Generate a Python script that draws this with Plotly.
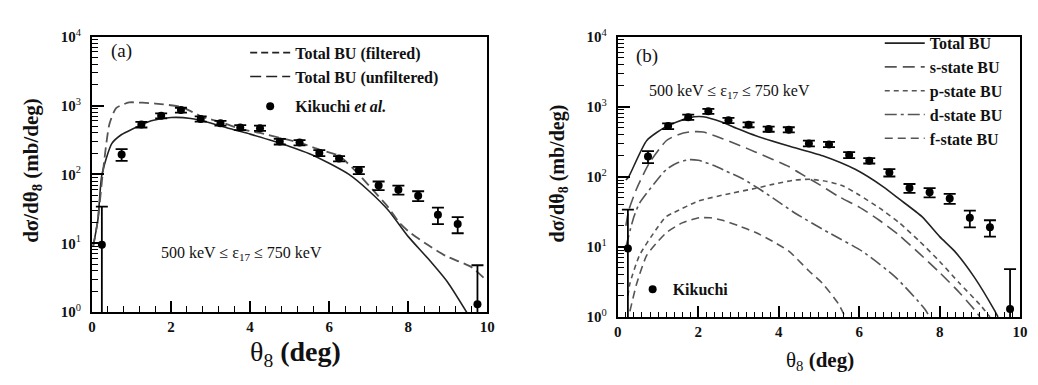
import plotly.graph_objects as go

# ---------------- data ----------------
# Kikuchi et al. measured points (theta_8 in deg, dsigma/dtheta in mb/deg)
exp_theta = [0.25, 0.75, 1.25, 1.75, 2.25, 2.75, 3.25, 3.75, 4.25, 4.75,
             5.25, 5.75, 6.25, 6.75, 7.25, 7.75, 8.25, 8.75, 9.25, 9.75]
exp_sigma = [9.5, 195, 530, 710, 860, 640, 555, 480, 470, 300,
             290, 205, 170, 115, 69, 60, 49, 26, 19, 1.3]
exp_err_up = [24.5, 38, 50, 60, 70, 55, 45, 40, 40, 28,
              25, 20, 15, 14, 10, 9, 8, 7, 5, 3.5]
exp_err_down = [9.45, 38, 50, 60, 70, 55, 45, 40, 40, 28,
                25, 20, 15, 14, 10, 9, 8, 7, 5, 1.28]

# panel (a): total breakup, filtered / unfiltered
filt_theta = [0.03, 0.15, 0.25, 0.5, 0.75, 1.0, 1.5, 2.0, 2.5, 3.0, 3.5,
              4.0, 4.5, 5.0, 5.5, 6.0, 6.5, 7.0, 7.5, 8.0, 8.5, 9.0, 9.5]
filt_sigma = [9, 22, 98, 280, 380, 450, 600, 670, 650, 560, 460,
              385, 315, 255, 200, 145, 100, 58, 30, 12.5, 6.0, 2.7, 0.95]

unf_theta = [0.03, 0.15, 0.27, 0.44, 0.61, 0.94, 1.27, 1.6, 2.27, 2.78, 3.28,
             3.78, 4.25, 4.75, 5.25, 5.75, 6.25, 6.75, 7.1, 7.5, 7.77, 8.0,
             8.44, 8.94, 9.6, 10.0]
unf_sigma = [9, 22, 100, 535, 915, 1110, 1100, 1070, 950, 690, 570,
             455, 400, 340, 290, 230, 186, 100, 60, 33, 20, 15,
             9.9, 6.6, 4.5, 2.8]

# panel (b): total and partial-wave breakup components
tot_theta = [0.2, 0.27, 0.72, 1.21, 1.78, 2.12, 2.6, 3.0, 3.43, 4.25, 5.09,
             5.9, 6.6, 7.0, 7.56, 8.0, 8.37, 8.86, 9.36, 9.45]
tot_sigma = [90, 100, 330, 525, 700, 720, 600, 480, 385, 275, 200,
             128, 72, 48, 27, 14, 8.7, 3.7, 1.25, 1.0]

s_theta = [0.2, 0.27, 0.47, 0.79, 1.21, 1.5, 1.78, 2.12, 2.6, 3.0, 3.43, 4.25,
           4.5, 5.0, 5.5, 6.0, 6.5, 7.0, 7.5, 8.0, 8.5, 8.9, 9.0]
s_sigma = [20, 33, 68, 160, 330, 400, 437, 437, 350, 285, 225, 140,
           115, 78, 52, 37, 24, 14.5, 8, 4.3, 2.2, 1.2, 1.0]

p_theta = [0.25, 0.3, 0.54, 0.96, 1.2, 1.4, 2.0, 2.8, 3.4, 3.85, 4.4, 4.8,
           5.2, 5.6, 6.0, 6.5, 7.0, 7.5, 8.0, 8.5, 9.0, 9.25]
p_sigma = [2, 3, 7.6, 18, 27, 31, 45, 58, 68, 78, 90, 92,
           86, 74, 55, 36, 22, 12, 6.2, 3.0, 1.5, 1.0]

d_theta = [0.2, 0.4, 0.54, 0.89, 1.21, 1.5, 1.78, 2.0, 2.37, 2.7, 3.1, 3.5,
           3.85, 4.42, 5.24, 6.07, 6.9, 7.63, 7.75]
d_sigma = [10, 27, 42, 78, 128, 160, 176, 172, 146, 120, 94, 68,
           50, 30, 16, 8.7, 3.7, 1.3, 1.0]

f_theta = [0.3, 0.47, 0.72, 1.0, 1.21, 1.6, 2.02, 2.3, 2.6, 3.0, 3.43, 3.85,
           4.25, 4.74, 5.09, 5.48, 5.65]
f_sigma = [1.2, 3, 7.6, 12, 16, 22, 26, 26, 24, 20, 16, 12,
           8.7, 4.6, 3, 1.55, 1.0]

x_ticks_a = [0, 2, 4, 6, 8, 10]
x_ticks_b = [0, 2, 4, 6, 8, 10]
y_ticks = [1, 10, 100, 1000, 10000]
y_ticklabels = ["<b>10</b><sup>0</sup>", "<b>10</b><sup>1</sup>",
                "<b>10</b><sup>2</sup>", "<b>10</b><sup>3</sup>",
                "<b>10</b><sup>4</sup>"]

# ---------------- styling ----------------
SERIF = "Liberation Serif"
W, H = 1038, 385
INK = "#222222"
GRAY = "#555555"


def px_x(p):
    return p / W


def px_y(p):
    return 1 - p / H


fig = go.Figure()

err = dict(type="data", symmetric=False, array=exp_err_up,
           arrayminus=exp_err_down, color="black", thickness=1.8, width=6)

# ---- panel (a) ----
fig.add_trace(go.Scatter(x=filt_theta, y=filt_sigma, mode="lines",
                         line=dict(color=INK, width=1.6, shape="spline", smoothing=0.6),
                         showlegend=False, xaxis="x", yaxis="y"))
fig.add_trace(go.Scatter(x=unf_theta, y=unf_sigma, mode="lines",
                         line=dict(color=GRAY, width=1.8, dash="10px,5px",
                                   shape="spline", smoothing=0.6),
                         showlegend=False, xaxis="x", yaxis="y"))
# legend keys for panel (a)
fig.add_trace(go.Scatter(x=[None], y=[None], mode="lines",
                         line=dict(color=INK, width=1.6, dash="7px,4px"),
                         name="<b>Total BU (filtered)</b>", legend="legend",
                         legendgroup="a1", xaxis="x", yaxis="y"))
fig.add_trace(go.Scatter(x=[None], y=[None], mode="lines",
                         line=dict(color=INK, width=1.6, dash="11px,5px"),
                         name="<b>Total BU (unfiltered)</b>", legend="legend",
                         legendgroup="a1", xaxis="x", yaxis="y"))
fig.add_trace(go.Scatter(x=exp_theta, y=exp_sigma, mode="markers",
                         marker=dict(color="black", size=8), error_y=err,
                         name="<b>Kikuchi <i>et al.</i></b>", legend="legend",
                         legendgroup="a2", xaxis="x", yaxis="y"))

# ---- panel (b) ----
fig.add_trace(go.Scatter(x=tot_theta, y=tot_sigma, mode="lines",
                         line=dict(color=INK, width=1.6, shape="spline", smoothing=0.6),
                         name="<b>Total BU</b>", legend="legend2",
                         xaxis="x2", yaxis="y2"))
fig.add_trace(go.Scatter(x=s_theta, y=s_sigma, mode="lines",
                         line=dict(color=GRAY, width=1.6, dash="12px,6px",
                                   shape="spline", smoothing=0.6),
                         name="<b>s-state BU</b>", legend="legend2",
                         xaxis="x2", yaxis="y2"))
fig.add_trace(go.Scatter(x=p_theta, y=p_sigma, mode="lines",
                         line=dict(color=GRAY, width=1.6, dash="5px,4px",
                                   shape="spline", smoothing=0.6),
                         name="<b>p-state BU</b>", legend="legend2",
                         xaxis="x2", yaxis="y2"))
fig.add_trace(go.Scatter(x=d_theta, y=d_sigma, mode="lines",
                         line=dict(color=GRAY, width=1.6, dash="12px,4px,3px,4px",
                                   shape="spline", smoothing=0.6),
                         name="<b>d-state BU</b>", legend="legend2",
                         xaxis="x2", yaxis="y2"))
fig.add_trace(go.Scatter(x=f_theta, y=f_sigma, mode="lines",
                         line=dict(color=GRAY, width=1.6, dash="8px,5px",
                                   shape="spline", smoothing=0.6),
                         name="<b>f-state BU</b>", legend="legend2",
                         xaxis="x2", yaxis="y2"))
fig.add_trace(go.Scatter(x=exp_theta, y=exp_sigma, mode="markers",
                         marker=dict(color="black", size=8), error_y=err,
                         name="<b>Kikuchi</b>", legend="legend3",
                         xaxis="x2", yaxis="y2"))

minor_y = [m * 10 ** e for e in range(0, 4) for m in range(2, 10)]

common_x = dict(range=[0, 10], showgrid=False, zeroline=False, showline=True,
                linecolor="black", linewidth=2, mirror=True, ticks="inside",
                tickcolor="black", tickwidth=1.5, ticklen=11,
                tickfont=dict(family=SERIF, size=15, color="#111"),
                tickmode="array")
common_y = dict(type="log", range=[0, 4], showgrid=False, zeroline=False,
                showline=True, linecolor="black", linewidth=2, mirror=True,
                ticks="inside", tickcolor="black", tickwidth=1.5, ticklen=12,
                tickmode="array", tickvals=y_ticks, ticktext=y_ticklabels,
                tickfont=dict(family=SERIF, size=15, color="#111"),
                ticklabelstandoff=6,
                minor=dict(ticks="inside", ticklen=6, tickwidth=1.2,
                           tickcolor="black", tickmode="array",
                           tickvals=minor_y, showgrid=False))

fig.update_layout(
    width=W, height=H, margin=dict(l=0, r=0, t=0, b=0),
    paper_bgcolor="white", plot_bgcolor="white",
    font=dict(family=SERIF, color="#111"),
    xaxis=dict(common_x, domain=[px_x(89), px_x(489)], anchor="y",
               tickvals=x_ticks_a, ticktext=[f"<b>{v}</b>" for v in x_ticks_a],
               minor=dict(ticks="inside", ticklen=6, tickwidth=1.2,
                          tickcolor="black", dtick=0.4, showgrid=False)),
    yaxis=dict(common_y, domain=[px_y(317), px_y(28)], anchor="x"),
    xaxis2=dict(common_x, domain=[px_x(621), px_x(1028)], anchor="y2",
                tickvals=x_ticks_b, ticktext=[f"<b>{v}</b>" for v in x_ticks_b],
                minor=dict(ticks="inside", ticklen=5, tickwidth=1.2,
                           tickcolor="black", dtick=0.2, showgrid=False)),
    yaxis2=dict(common_y, domain=[px_y(322), px_y(28)], anchor="x2"),
    legend=dict(x=px_x(244), y=px_y(27), xanchor="left", yanchor="top",
                bgcolor="rgba(0,0,0,0)", tracegroupgap=6,
                font=dict(family=SERIF, size=16, color="#111"),
                traceorder="grouped", itemwidth=40),
    legend2=dict(x=px_x(886), y=px_y(17), xanchor="left", yanchor="top",
                 bgcolor="rgba(0,0,0,0)",
                 font=dict(family=SERIF, size=16, color="#111"),
                 traceorder="normal", itemwidth=40),
    legend3=dict(x=px_x(636), y=px_y(293), xanchor="left", yanchor="middle",
                 bgcolor="rgba(0,0,0,0)",
                 font=dict(family=SERIF, size=16, color="#111")),
)

ann = []
# axis titles
ann.append(dict(text="<b>dσ/dθ<sub>8</sub> (mb/deg)</b>", x=px_x(28), y=px_y(168),
                textangle=-90, font=dict(family=SERIF, size=21)))
ann.append(dict(text="<b>dσ/dθ<sub>8</sub> (mb/deg)</b>", x=px_x(561), y=px_y(172),
                textangle=-90, font=dict(family=SERIF, size=20)))
ann.append(dict(text="θ<sub>8</sub> <b>(deg)</b>", x=px_x(295), y=px_y(360),
                font=dict(family=SERIF, size=28)))
ann.append(dict(text="θ<sub>8</sub> <b>(deg)</b>", x=px_x(826), y=px_y(368),
                font=dict(family=SERIF, size=21)))
# panel labels
ann.append(dict(text="(a)", x=px_x(106), y=px_y(43), xanchor="left",
                font=dict(family=SERIF, size=19)))
ann.append(dict(text="(b)", x=px_x(637), y=px_y(48), xanchor="left",
                font=dict(family=SERIF, size=19)))
# energy window
ann.append(dict(text="500 keV ≤ ε<sub>17</sub> ≤ 750 keV", x=px_x(157), y=px_y(255),
                xanchor="left", font=dict(family=SERIF, size=16)))
ann.append(dict(text="500 keV ≤ ε<sub>17</sub> ≤ 750 keV", x=px_x(651), y=px_y(85),
                xanchor="left", font=dict(family=SERIF, size=16)))
for a in ann:
    a.update(xref="paper", yref="paper", showarrow=False)
    a.setdefault("xanchor", "center")
    a.setdefault("yanchor", "middle")
fig.update_layout(annotations=ann)

fig.write_html("out.html")
